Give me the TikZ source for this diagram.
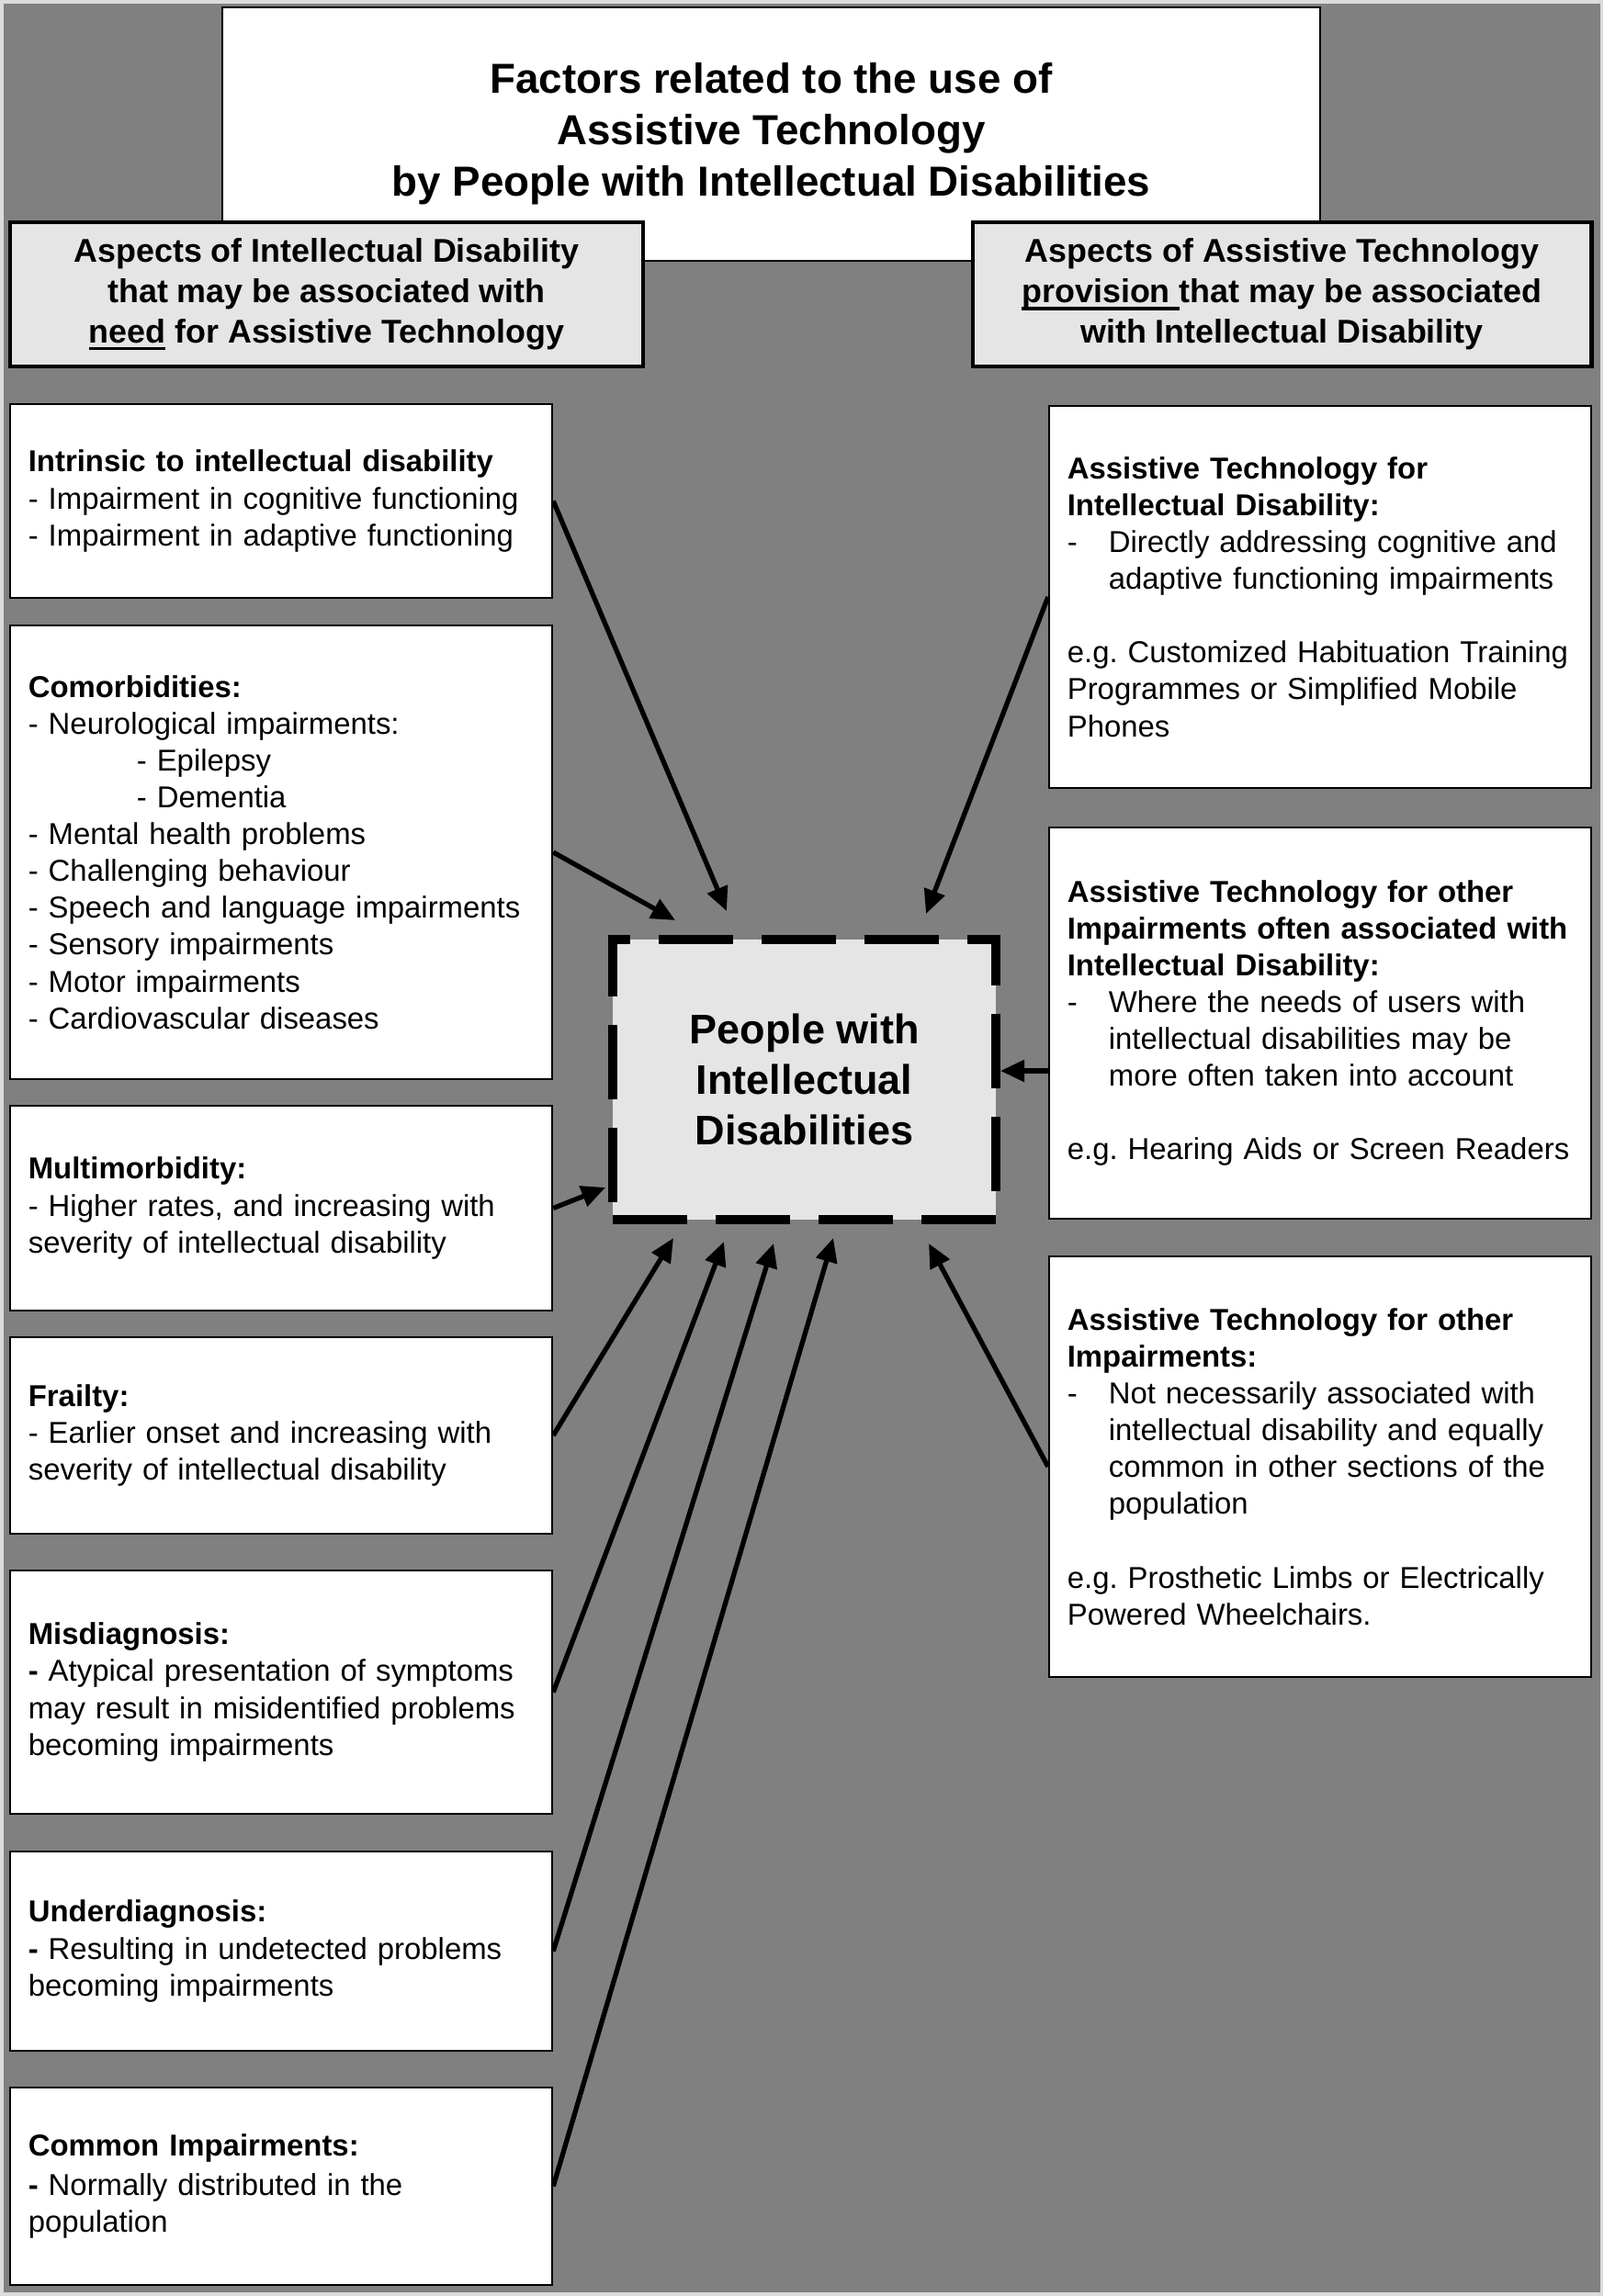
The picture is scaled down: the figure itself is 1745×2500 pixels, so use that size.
\documentclass[tikz,border=0pt]{standalone}
\usepackage{fontspec}
\setmainfont{Liberation Sans}
\usepackage{xcolor}
\usepackage{tikz}
\usetikzlibrary{arrows.meta,calc,positioning}
\definecolor{bggray}{HTML}{808080}
\definecolor{boxgray}{HTML}{E6E5E6}
\definecolor{framegray}{HTML}{DCDCDC}
\frenchspacing
\hyphenpenalty=10000
\exhyphenpenalty=10000
\newcommand{\thickul}[1]{\sbox0{#1}\rlap{\rule[-2.2pt]{\wd0}{0.9pt}}\usebox0}
\newcommand{\dashitem}{\makebox[0.45cm][l]{-}}
\newcommand{\hang}{\hspace*{0.45cm}}

\begin{document}
\begin{tikzpicture}[x=0.01cm, y=-0.01cm,
  box/.style={draw=black, line width=0.6pt, fill=white, align=left,
    minimum width=5.9cm, text width=5.5cm, inner xsep=0.2cm,
    font=\fontsize{9.35}{11.4}\selectfont},
  headbox/.style={draw=black, line width=1.3pt, fill=boxgray, align=center,
    minimum height=1.57cm, font=\bfseries\fontsize{10.2}{12.5}\selectfont},
  arr/.style={-{Triangle[length=0.26cm,width=0.23cm]}, line width=1.5pt}]
  \useasboundingbox (0,0) rectangle (1745,2500);
  \fill[framegray] (0,0) rectangle (1745,2500);
  \fill[bggray] (4,4) rectangle (1742,2496);

  % title and column headers
  \node[draw=black, line width=0.6pt, fill=white, minimum width=11.95cm,
    minimum height=2.76cm, align=center,
    font=\bfseries\fontsize{13}{15.9}\selectfont] (title) at (839.5,146)
    {Factors related to the use of\\Assistive Technology\\by People with Intellectual Disabilities};
  \node[headbox, minimum width=6.89cm] (needhd) at (355.5,320.5)
    {Aspects of Intellectual Disability\\that may be associated with\\\thickul{need} for Assistive Technology};
  \node[headbox, minimum width=6.73cm] (provhd) at (1395.5,320.5)
    {Aspects of Assistive Technology\\\thickul{provision\ }that may be associated\\with Intellectual Disability};

  % left column
  \node[box, minimum height=2.11cm] (intr) at (306,545.5)
    {\textbf{Intrinsic to intellectual disability}\\- Impairment in cognitive functioning\\- Impairment in adaptive functioning};
  \node[box, minimum height=4.94cm] (comorb) at (306,928)
    {\textbf{Comorbidities:}\\- Neurological impairments:\\\hspace*{1.18cm}- Epilepsy\\\hspace*{1.18cm}- Dementia\\- Mental health problems\\- Challenging behaviour\\- Speech and language impairments\\- Sensory impairments\\- Motor impairments\\- Cardiovascular diseases};
  \node[box, minimum height=2.23cm] (multi) at (306,1315.5)
    {\textbf{Multimorbidity:}\\- Higher rates, and increasing with\\severity of intellectual disability};
  \node[box, minimum height=2.14cm] (frail) at (306,1563)
    {\textbf{Frailty:}\\- Earlier onset and increasing with\\severity of intellectual disability};
  \node[box, minimum height=2.65cm] (misdiag) at (306,1842.5)
    {\textbf{Misdiagnosis:}\\\textbf{-} Atypical presentation of symptoms\\may result in misidentified problems\\becoming impairments};
  \node[box, minimum height=2.17cm] (underdiag) at (306,2124.5)
    {\textbf{Underdiagnosis:}\\\textbf{-} Resulting in undetected problems\\becoming impairments};
  \node[box, minimum height=2.15cm] (common) at (306,2380.5)
    {\textbf{Common Impairments:}\\[1pt]\textbf{-} Normally distributed in the\\population};

  % right column
  \node[box, minimum height=4.16cm] (atid) at (1437,650)
    {\textbf{Assistive Technology for}\\\textbf{Intellectual Disability:}\\\dashitem Directly addressing cognitive and\\\hang adaptive functioning impairments\\[\baselineskip]e.g. Customized Habituation Training\\Programmes or Simplified Mobile\\Phones};
  \node[box, minimum height=4.26cm] (atoft) at (1437,1114)
    {\textbf{Assistive Technology for other}\\\textbf{Impairments often associated with}\\\textbf{Intellectual Disability:}\\\dashitem Where the needs of users with\\\hang intellectual disabilities may be\\\hang more often taken into account\\[\baselineskip]e.g. Hearing Aids or Screen Readers};
  \node[box, minimum height=4.58cm] (atoth) at (1437,1597)
    {\textbf{Assistive Technology for other}\\\textbf{Impairments:}\\\dashitem Not necessarily associated with\\\hang intellectual disability and equally\\\hang common in other sections of the\\\hang population\\[\baselineskip]e.g. Prosthetic Limbs or Electrically\\Powered Wheelchairs.};

  % centre
  \node[draw=black, fill=boxgray, line width=3pt, dash pattern=on 0.81cm off 0.31cm,
    minimum width=4.17cm, minimum height=3.05cm, align=center,
    font=\bfseries\fontsize{12.8}{15.6}\selectfont] (pid) at (875.5,1175.5)
    {People with\\Intellectual\\Disabilities};

  % arrow tips round the centre
  \coordinate (a1) at (791,992);
  \coordinate (a2) at (735,1002);
  \coordinate (a3) at (659,1293);
  \coordinate (a4) at (733,1348);
  \coordinate (a5) at (788,1352);
  \coordinate (a6) at (842,1354);
  \coordinate (a7) at (907,1348);
  \coordinate (b1) at (1008,995);
  \coordinate (b2) at (1089,1166);
  \coordinate (b3) at (1011,1354);

  \foreach \s/\t in {intr/a1,comorb/a2,multi/a3,frail/a4,misdiag/a5,underdiag/a6,common/a7}
    \draw[arr] (\s.east) -- (\t);
  \foreach \s/\t in {atid/b1,atoth/b3}
    \draw[arr] (\s.west) -- (\t);
  \draw[arr] (atoft.west |- b2) -- (b2);
\end{tikzpicture}
\end{document}
